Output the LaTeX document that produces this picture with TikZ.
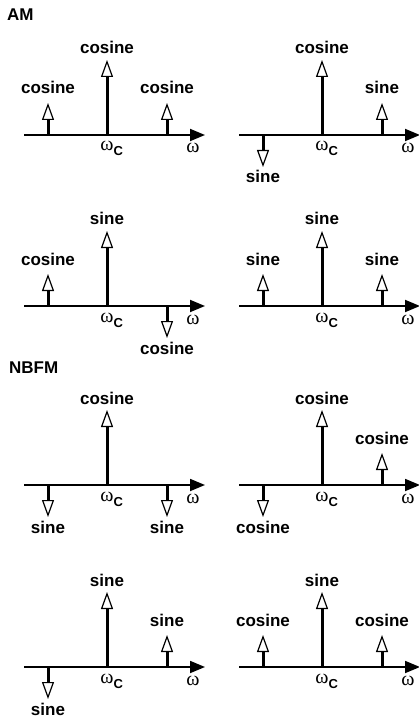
\documentclass[tikz,border=0pt]{standalone}
\usepackage{fontspec}
\setmainfont{Liberation Sans}
\newfontfamily\grk{Liberation Serif}
\usetikzlibrary{arrows.meta}
\newcommand\spectrum[8]{%
  % #1 name prefix, #2 centre x, #3 axis y, #4 centre label,
  % #5 left dir (1 up, -1 down), #6 left label, #7 right dir, #8 right label
  \coordinate (#1a0) at ({#2-83},#3);
  \coordinate (#1a1) at ({#2+98},#3);
  \draw[axisline] (#1a0) -- (#1a1);
  \coordinate (#1cb) at (#2,#3);
  \coordinate (#1ct) at (#2,{#3-75});
  \draw[spike] (#1cb) -- (#1ct);
  \node[lbl] (#1cl) at (#2,{#3-81}) {#4};
  \coordinate (#1lb) at ({#2-59},#3);
  \coordinate (#1lt) at ({#2-59},{#3-32*(#5)});
  \draw[spike] (#1lb) -- (#1lt);
  \node[lbl] (#1ll) at ({#2-59},{#3-44.5*(#5)+3.5}) {#6};
  \coordinate (#1rb) at ({#2+60},#3);
  \coordinate (#1rt) at ({#2+60},{#3-32*(#7)});
  \draw[spike] (#1rb) -- (#1rt);
  \node[lbl] (#1rl) at ({#2+60},{#3-44.5*(#7)+3.5}) {#8};
  \node[wlbl] (#1wc) at (#2,{#3+16}) {{\grk ω}\rlap{\raisebox{-5pt}{\fontsize{13}{13}\selectfont\bfseries C}}};
  \node[wlbl] (#1w) at ({#2+86},{#3+18}) {\grk ω};
}
\begin{document}
\begin{tikzpicture}[x=1pt,y=-1pt,
  axisline/.style={line width=1.8pt,-{Triangle[length=15pt,width=12pt]}},
  spike/.style={line width=3pt,-{Triangle[length=17pt,width=12pt,line width=1.2pt,fill=white]}},
  lbl/.style={font=\fontsize{17}{17}\selectfont\bfseries,anchor=base,inner sep=0pt},
  ttl/.style={font=\fontsize{17}{17}\selectfont\bfseries,anchor=base west,inner sep=0pt},
  wlbl/.style={font=\fontsize{20}{20}\selectfont,anchor=base,inner sep=0pt}]
  \useasboundingbox (0,0) rectangle (418,719);
  \node[ttl] (am) at (7,21) {AM};
  \node[ttl] (nbfm) at (9,373) {NBFM};
  \spectrum{p1}{107}{135}{cosine}{1}{cosine}{1}{cosine}
  \spectrum{p2}{322}{135}{cosine}{-1}{sine}{1}{sine}
  \spectrum{p3}{107}{306}{sine}{1}{cosine}{-1}{cosine}
  \spectrum{p4}{322}{306}{sine}{1}{sine}{1}{sine}
  \spectrum{p5}{107}{485}{cosine}{-1}{sine}{-1}{sine}
  \spectrum{p6}{322}{485}{cosine}{-1}{cosine}{1}{cosine}
  \spectrum{p7}{107}{667}{sine}{-1}{sine}{1}{sine}
  \spectrum{p8}{322}{667}{sine}{1}{cosine}{1}{cosine}
\end{tikzpicture}
\end{document}
